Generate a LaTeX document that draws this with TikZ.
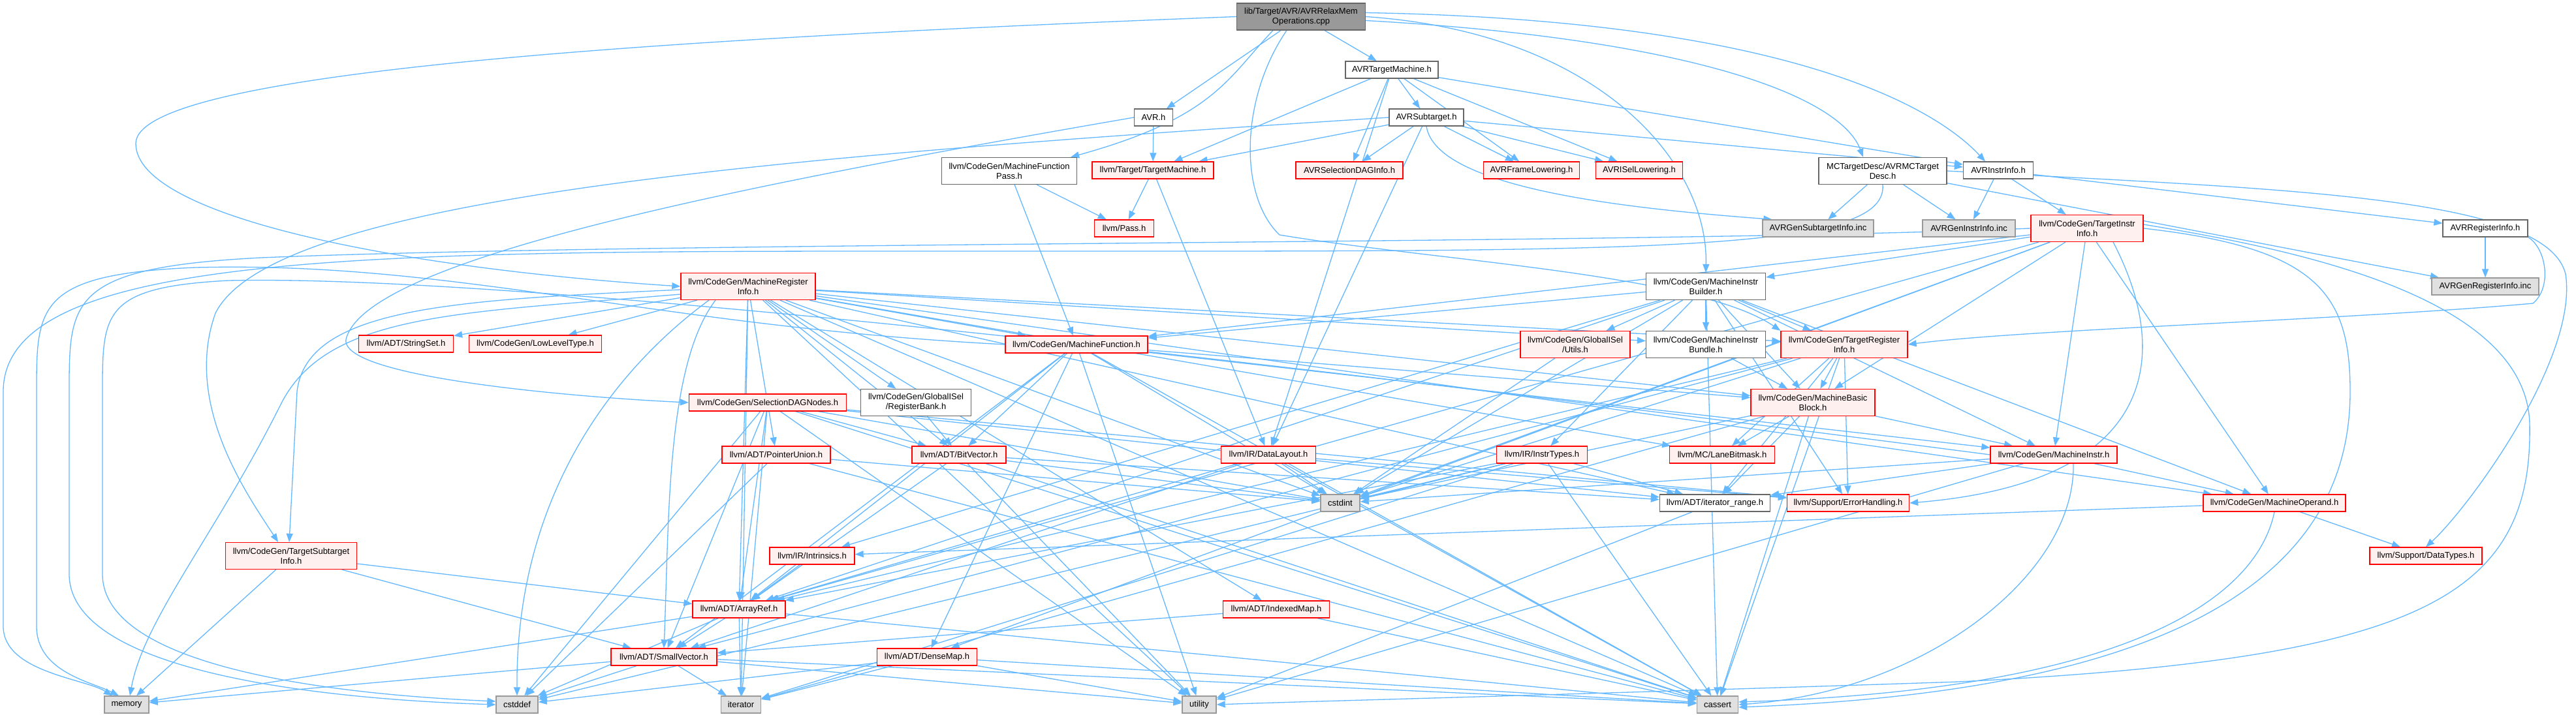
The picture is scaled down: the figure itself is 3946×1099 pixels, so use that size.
\documentclass[tikz,border=0pt]{standalone}
\usepackage{fontspec}
\setmainfont{Liberation Sans}
\usetikzlibrary{arrows.meta}
\definecolor{edgec}{HTML}{63B8FF}
\definecolor{redb}{HTML}{FF0000}
\definecolor{redf}{HTML}{FFF0F0}
\definecolor{grayf}{HTML}{E0E0E0}
\definecolor{grayb}{HTML}{999999}
\definecolor{darkb}{HTML}{666666}
\definecolor{rootf}{HTML}{999999}
\pgfdeclarelayer{bg}
\pgfsetlayers{bg,main}
\begin{document}
\begin{tikzpicture}[x=1pt,y=-1pt,
  nd/.style={rectangle, inner sep=0pt, align=center, font=\fontsize{13}{15}\selectfont, line width=1.3pt, text=black},
  wn/.style={nd, draw=darkb, fill=white},
  rn/.style={nd, draw=redb, fill=redf},
  gn/.style={nd, draw=grayb, fill=grayf},
  rootn/.style={nd, draw=darkb, fill=rootf},
  e/.style={draw=edgec, line width=1.3pt, -{Triangle[length=13pt,width=10pt]}}]
\useasboundingbox (0,0) rectangle (3946,1099);
\node[rootn, minimum width=197pt, minimum height=41pt] (root) at (1993,25.5) {lib/Target/AVR/AVRRelaxMem\\Operations.cpp};
\node[wn, minimum width=59pt, minimum height=26pt] (avrh) at (1767,180) {AVR.h};
\node[wn, minimum width=207pt, minimum height=41pt] (mfp) at (1546,262) {llvm/CodeGen/MachineFunction\\Pass.h};
\node[rn, minimum width=186pt, minimum height=26pt] (tm) at (1766,261) {llvm/Target/TargetMachine.h};
\node[rn, minimum width=91pt, minimum height=26pt] (pass) at (1722,350) {llvm/Pass.h};
\node[wn, minimum width=142pt, minimum height=26pt] (avrtm) at (2132,107) {AVRTargetMachine.h};
\node[wn, minimum width=114pt, minimum height=26pt] (avrsub) at (2185,180) {AVRSubtarget.h};
\node[rn, minimum width=164pt, minimum height=26pt] (seldag) at (2067,261) {AVRSelectionDAGInfo.h};
\node[rn, minimum width=147pt, minimum height=26pt] (frame) at (2346,261) {AVRFrameLowering.h};
\node[rn, minimum width=133pt, minimum height=26pt] (isel) at (2511,261) {AVRISelLowering.h};
\node[wn, minimum width=196pt, minimum height=41pt] (mctd) at (2884,262) {MCTargetDesc/AVRMCTarget\\Desc.h};
\node[gn, minimum width=170pt, minimum height=26pt] (gensub) at (2785,350) {AVRGenSubtargetInfo.inc};
\node[gn, minimum width=142pt, minimum height=26pt] (geninstr) at (3016,350) {AVRGenInstrInfo.inc};
\node[wn, minimum width=107pt, minimum height=26pt] (avrinstr) at (3061,261) {AVRInstrInfo.h};
\node[rn, minimum width=172pt, minimum height=41pt] (tii) at (3197,350) {llvm/CodeGen/TargetInstr\\Info.h};
\node[wn, minimum width=130pt, minimum height=26pt] (avrreg) at (3807,350) {AVRRegisterInfo.h};
\node[gn, minimum width=164pt, minimum height=26pt] (genreg) at (3807,439) {AVRGenRegisterInfo.inc};
\node[rn, minimum width=206pt, minimum height=41pt] (mri) at (1146,439) {llvm/CodeGen/MachineRegister\\Info.h};
\node[rn, minimum width=218pt, minimum height=26pt] (mf) at (1649,528) {llvm/CodeGen/MachineFunction.h};
\node[rn, minimum width=241pt, minimum height=26pt] (sdn) at (1176,617) {llvm/CodeGen/SelectionDAGNodes.h};
\node[wn, minimum width=169pt, minimum height=41pt] (rb) at (1403,617) {llvm/CodeGen/GlobalISel\\/RegisterBank.h};
\node[rn, minimum width=166pt, minimum height=26pt] (pu) at (1189,697) {llvm/ADT/PointerUnion.h};
\node[rn, minimum width=144pt, minimum height=26pt] (bv) at (1469,697) {llvm/ADT/BitVector.h};
\node[rn, minimum width=145pt, minimum height=26pt] (dl) at (1943,697) {llvm/IR/DataLayout.h};
\node[rn, minimum width=145pt, minimum height=26pt] (sset) at (622,527) {llvm/ADT/StringSet.h};
\node[rn, minimum width=203pt, minimum height=26pt] (llt) at (820,527) {llvm/CodeGen/LowLevelType.h};
\node[wn, minimum width=183pt, minimum height=41pt] (mib) at (2613,439) {llvm/CodeGen/MachineInstr\\Builder.h};
\node[rn, minimum width=168pt, minimum height=41pt] (utils) at (2413,528) {llvm/CodeGen/GlobalISel\\/Utils.h};
\node[wn, minimum width=183pt, minimum height=41pt] (bundle) at (2613,528) {llvm/CodeGen/MachineInstr\\Bundle.h};
\node[rn, minimum width=194pt, minimum height=41pt] (tri) at (2825,528) {llvm/CodeGen/TargetRegister\\Info.h};
\node[rn, minimum width=190pt, minimum height=41pt] (mbb) at (2777,617) {llvm/CodeGen/MachineBasic\\Block.h};
\node[rn, minimum width=139pt, minimum height=26pt] (itypes) at (2362,697) {llvm/IR/InstrTypes.h};
\node[rn, minimum width=161pt, minimum height=26pt] (lane) at (2638,697) {llvm/MC/LaneBitmask.h};
\node[rn, minimum width=194pt, minimum height=26pt] (mi) at (3146,697) {llvm/CodeGen/MachineInstr.h};
\node[rn, minimum width=201pt, minimum height=41pt] (tsi) at (446,852) {llvm/CodeGen/TargetSubtarget\\Info.h};
\node[gn, minimum width=68pt, minimum height=26pt] (memory) at (194,1080) {memory};
\node[gn, minimum width=64pt, minimum height=26pt] (cstddef) at (792,1080) {cstddef};
\node[rn, minimum width=162pt, minimum height=26pt] (sv) at (1017,1007) {llvm/ADT/SmallVector.h};
\node[rn, minimum width=130pt, minimum height=26pt] (intr) at (1244,852) {llvm/IR/Intrinsics.h};
\node[rn, minimum width=142pt, minimum height=26pt] (ar) at (1132,934) {llvm/ADT/ArrayRef.h};
\node[rn, minimum width=153pt, minimum height=26pt] (dm) at (1420,1007) {llvm/ADT/DenseMap.h};
\node[gn, minimum width=61pt, minimum height=26pt] (iter) at (1135,1080) {iterator};
\node[gn, minimum width=52pt, minimum height=26pt] (util) at (1837,1080) {utility};
\node[rn, minimum width=163pt, minimum height=26pt] (im) at (1955,934) {llvm/ADT/IndexedMap.h};
\node[gn, minimum width=60pt, minimum height=26pt] (cstdint) at (2053,771) {cstdint};
\node[wn, minimum width=169pt, minimum height=26pt] (itr) at (2627,771) {llvm/ADT/iterator\_range.h};
\node[rn, minimum width=187pt, minimum height=26pt] (eh) at (2831,771) {llvm/Support/ErrorHandling.h};
\node[gn, minimum width=63pt, minimum height=26pt] (cassert) at (2631,1080) {cassert};
\node[rn, minimum width=218pt, minimum height=26pt] (mo) at (3484,771) {llvm/CodeGen/MachineOperand.h};
\node[rn, minimum width=172pt, minimum height=26pt] (dt) at (3716,852) {llvm/Support/DataTypes.h};
\begin{pgfonlayer}{bg}
\fill[white] (0,0) rectangle (3946,1099);
\foreach \a/\b in {root/avrh, root/avrtm,
  avrh/tm, mfp/pass, mfp/mf, tm/pass, tm/dl,
  avrtm/avrsub, avrtm/seldag, avrtm/frame, avrtm/isel, avrtm/avrinstr, avrtm/tm, avrtm/dl,
  avrsub/dl, avrsub/tm, avrsub/frame, avrsub/isel, avrsub/avrinstr, avrsub/seldag,
  mctd/genreg, mctd/geninstr, mctd/gensub,
  avrinstr/tii, avrinstr/avrreg, avrinstr/geninstr, avrreg/genreg,
  tii/ar, tii/dm, tii/mbb, tii/mf, tii/mi, tii/mib, tii/mo, tii/cstdint,
  mib/ar, mib/utils, mib/mbb, mib/mf, mib/mi, mib/bundle, mib/mo, mib/tri, mib/itypes, mib/intr, mib/eh, mib/cassert, mib/cstdint,
  bundle/mbb,
  mri/ar, mri/bv, mri/im, mri/pu, mri/sset, mri/itr, mri/llt, mri/mbb, mri/mf, mri/bundle, mri/mo, mri/rb, mri/tri, mri/lane, mri/cassert, mri/cstdint, mri/iter, mri/util,
  mf/ar, mf/bv, mf/dm, mf/sv, mf/mbb, mf/mi, mf/cassert, mf/cstdint, mf/util,
  sdn/ar, sdn/bv, sdn/sv, sdn/itr, sdn/eh, sdn/cassert, sdn/cstddef, sdn/cstdint, sdn/iter, sdn/util,
  rb/bv, pu/cassert, pu/cstddef, pu/cstdint,
  bv/ar, bv/itr, bv/cassert, bv/cstdint, bv/util,
  dl/ar, dl/sv, dl/eh, dl/cassert, dl/cstdint,
  utils/cstdint,
  tri/ar, tri/sv, tri/itr, tri/mbb, tri/lane, tri/eh, tri/cassert, tri/cstdint,
  mbb/itr, mbb/mi, mbb/lane, mbb/cassert, mbb/cstdint, mbb/iter,
  itypes/ar, itypes/itr, itypes/cassert, itypes/cstddef, itypes/cstdint, itypes/iter,
  mi/itr, mi/mo, mi/cstdint, mi/util,
  tsi/ar, tsi/sv, tsi/memory,
  sv/cassert, sv/cstddef, sv/iter, sv/memory, sv/util,
  intr/ar, ar/sv, ar/cassert, ar/cstddef, ar/iter, ar/memory,
  dm/cassert, dm/cstddef, dm/iter, dm/util,
  im/sv, im/cassert, itr/util,
  mo/intr, mo/dt}
  \draw[e] (\a) -- (\b);
% curved routes
\draw[e] (root.west) .. controls (1000,60) and (208,110) .. (208,220) .. controls (208,330) and (600,410) .. (mri.west);
\draw[e] ([xshift=-43pt]root.south) .. controls (1880,120) and (1860,180) .. ([xshift=-10pt]mfp.north east);
\draw[e] ([xshift=-22pt]root.south) .. controls (1900,150) and (1897,300) .. (1960,360) .. controls (2200,400) and (2600,420) .. (tri.north west);
\draw[e] (root.east) .. controls (2450,50) and (2617,250) .. (mib.north);
\draw[e] ([yshift=-6pt]root.east) .. controls (2600,60) and (2820,150) .. ([xshift=-30pt]mctd.north);
\draw[e] ([yshift=6pt]root.east) .. controls (2700,30) and (2950,150) .. ([xshift=-20pt]avrinstr.north);
\draw[e] (avrh.west) .. controls (1100,290) and (560,400) .. (530,520) .. controls (520,580) and (900,610) .. (sdn.west);
\draw[e] (avrsub.west) .. controls (1200,240) and (420,300) .. (330,480) .. controls (280,620) and (380,760) .. ([xshift=-20pt]tsi.north);
\draw[e] (avrsub.south) .. controls (2200,290) and (2500,320) .. ([xshift=15pt]gensub.north west);
\draw[e] (mctd.south) .. controls (2893,390) and (2500,385) .. (1500,385) .. controls (600,385) and (5,380) .. (5,600) -- (5,960) .. controls (5,1030) and (130,1040) .. ([xshift=-22pt]memory.north);
\draw[e] (mctd.east) .. controls (3500,290) and (3900,300) .. (3930,420) .. controls (3950,550) and (3780,780) .. (dt.north);
\draw[e] (mf.west) .. controls (1000,500) and (700,400) .. (300,410) .. controls (56,420) and (56,470) .. (56,600) -- (56,960) .. controls (56,1030) and (140,1045) .. ([xshift=-12pt]memory.north);
\draw[e] (tii.west) .. controls (2500,375) and (1000,370) .. (400,395) .. controls (106,410) and (106,460) .. (106,600) -- (106,880) .. controls (106,1050) and (600,1075) .. (cstddef.west);
\draw[e] (mi.west) .. controls (2000,560) and (800,420) .. (350,430) .. controls (157,440) and (157,480) .. (157,600) -- (157,880) .. controls (157,1040) and (600,1068) .. ([yshift=5pt]cstddef.west);
\draw[e] (tii.east) .. controls (3550,380) and (3600,450) .. (3600,600) .. controls (3600,900) and (3300,1060) .. ([yshift=-4pt]cassert.east);
\draw[e] ([yshift=6pt]tii.east) .. controls (3500,380) and (3870,450) .. (3875,650) .. controls (3880,920) and (3700,1010) .. (3000,1045) .. controls (2400,1065) and (2000,1075) .. (util.east);
\draw[e] ([xshift=40pt]tii.south) .. controls (3330,550) and (3300,740) .. (eh.east);
\draw[e] (mo.south) .. controls (3460,900) and (3300,1055) .. ([yshift=4pt]cassert.east);
\draw[e] ([xshift=30pt]mi.south) .. controls (3180,880) and (2950,1060) .. (cassert.east);
\draw[e] (avrreg.south east) .. controls (3900,380) and (3910,440) .. (3880,465) .. controls (3600,490) and (3100,505) .. (tri.east);
\draw[e] ([yshift=-5pt]mri.west) .. controls (700,460) and (470,470) .. (455,600) -- ([xshift=-3pt]tsi.north);
\draw[e] ([yshift=-12pt]mri.west) .. controls (700,480) and (500,480) .. (430,620) .. controls (330,820) and (220,950) .. ([xshift=5pt]memory.north);
\draw[e] ([xshift=-60pt]mri.south) .. controls (950,560) and (790,750) .. (cstddef.north);
\draw[e] ([xshift=-50pt]mri.south) .. controls (1020,560) and (1025,800) .. (sv.north);
\end{pgfonlayer}
\end{tikzpicture}
\end{document}
